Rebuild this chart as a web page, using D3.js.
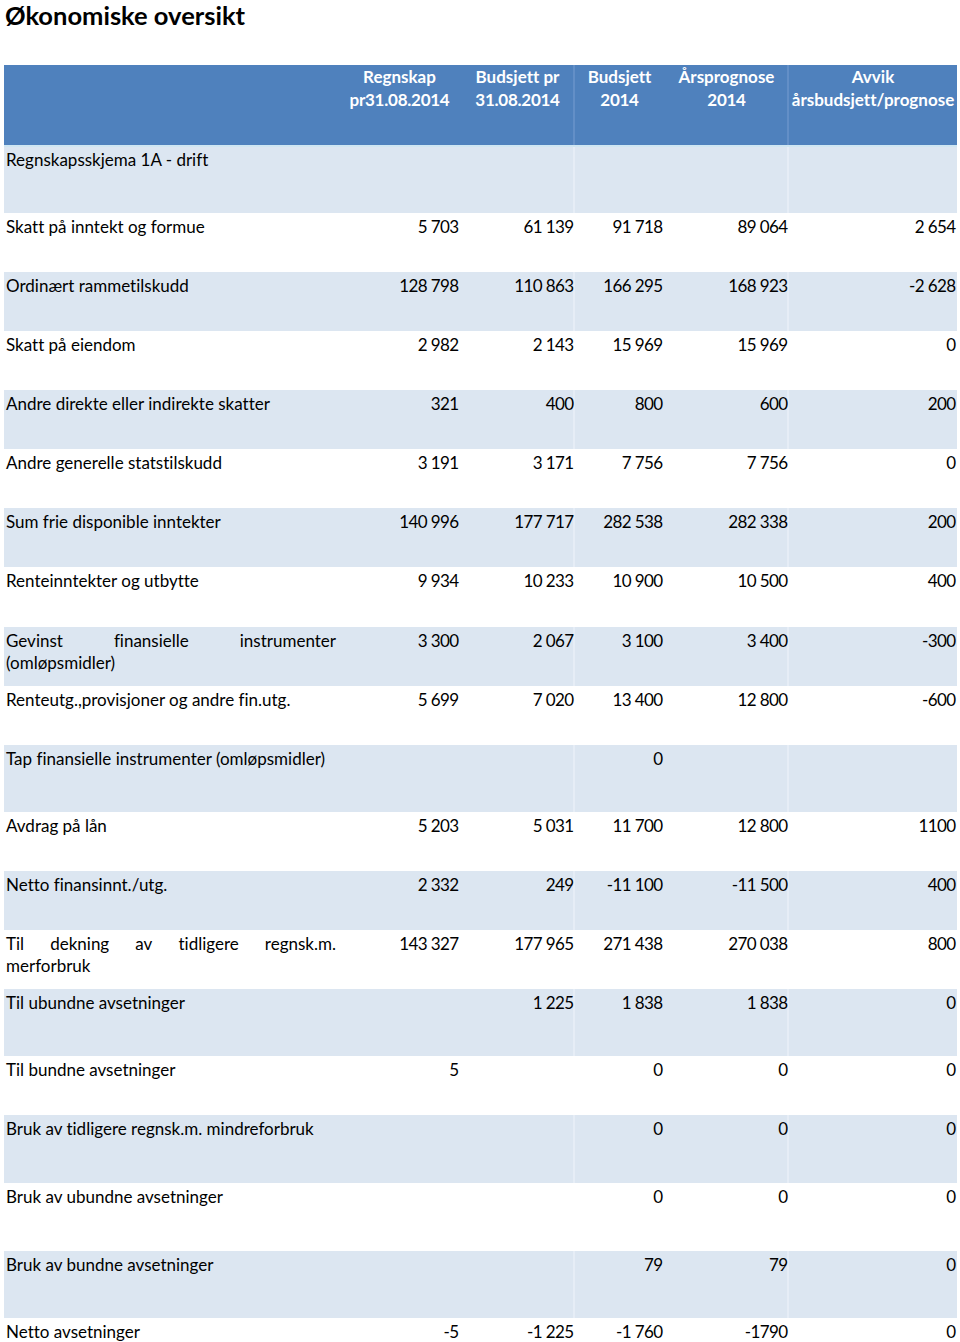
<!DOCTYPE html>
<html><head><meta charset="utf-8">
<script src="https://cdn.jsdelivr.net/npm/d3@7"></script>
<style>
html,body{margin:0;padding:0;background:#fff;}
svg{display:block;}
text{font-family:Lato,"Open Sans",sans-serif;font-variant-ligatures:none;font-feature-settings:"liga" 0,"clig" 0;}
</style></head>
<body>
<svg id="c" width="960" height="1342"></svg>
<script>
// ---------- data ----------
const title = "Økonomiske oversikt";
const headers = [
  ["Regnskap", "pr31.08.2014"],
  ["Budsjett pr", "31.08.2014"],
  ["Budsjett", "2014"],
  ["Årsprognose", "2014"],
  ["Avvik", "årsbudsjett/prognose"]
];
const labels = [
  "Regnskapsskjema 1A - drift",
  "Skatt på inntekt og formue",
  "Ordinært rammetilskudd",
  "Skatt på eiendom",
  "Andre direkte eller indirekte skatter",
  "Andre generelle statstilskudd",
  "Sum frie disponible inntekter",
  "Renteinntekter og utbytte",
  "Gevinst finansielle instrumenter (omløpsmidler)",
  "Renteutg.,provisjoner og andre fin.utg.",
  "Tap finansielle instrumenter (omløpsmidler)",
  "Avdrag på lån",
  "Netto finansinnt./utg.",
  "Til dekning av tidligere regnsk.m. merforbruk",
  "Til ubundne avsetninger",
  "Til bundne avsetninger",
  "Bruk av tidligere regnsk.m. mindreforbruk",
  "Bruk av ubundne avsetninger",
  "Bruk av bundne avsetninger",
  "Netto avsetninger"
];
const regnskap = ["", "5 703", "128 798", "2 982", "321", "3 191", "140 996", "9 934", "3 300", "5 699", "", "5 203", "2 332", "143 327", "", "5", "", "", "", "-5"];
const budsjettPr = ["", "61 139", "110 863", "2 143", "400", "3 171", "177 717", "10 233", "2 067", "7 020", "", "5 031", "249", "177 965", "1 225", "", "", "", "", "-1 225"];
const budsjett2014 = ["", "91 718", "166 295", "15 969", "800", "7 756", "282 538", "10 900", "3 100", "13 400", "0", "11 700", "-11 100", "271 438", "1 838", "0", "0", "0", "79", "-1 760"];
const prognose = ["", "89 064", "168 923", "15 969", "600", "7 756", "282 338", "10 500", "3 400", "12 800", "", "12 800", "-11 500", "270 038", "1 838", "0", "0", "0", "79", "-1790"];
const avvik = ["", "2 654", "-2 628", "0", "200", "0", "200", "400", "-300", "-600", "", "1100", "400", "800", "0", "0", "0", "0", "0", "0"];

// ---------- layout ----------
const series = [regnskap, budsjettPr, budsjett2014, prognose, avvik];
const colEdges = [4, 339, 460, 575, 664, 789, 957];
const headerTop = 65, headerBottom = 146;
const rowHeights = [67,59,59,59,59,59,59,60,59,59,67,59,59,59,67,59,68,68,67,30];
const wrapRows = new Set([8, 13]);
const rowTops = [headerBottom];
rowHeights.forEach((h,i)=>rowTops.push(rowTops[i]+h));

const svg = d3.select("#c");
const FS = 17;

// title
svg.append("text").attr("x", 5).attr("y", 25)
  .attr("font-size", 25.5).attr("font-weight", 700).attr("fill", "#000")
  .text(title);

// header background
svg.append("rect").attr("x", colEdges[0]).attr("y", headerTop)
  .attr("width", colEdges[6]-colEdges[0]).attr("height", headerBottom-headerTop)
  .attr("fill", "#4f81bd");

// rows background
const rows = svg.append("g");
rows.selectAll("rect").data(labels).join("rect")
  .attr("x", colEdges[0]).attr("y", (d,i)=>rowTops[i])
  .attr("width", colEdges[6]-colEdges[0]).attr("height", (d,i)=>rowHeights[i])
  .attr("fill", (d,i)=> i%2===0 ? "#dce6f1" : "#ffffff");

// separators
[575, 789].forEach(x=>{
  svg.append("line").attr("x1", x-1).attr("x2", x-1).attr("y1", headerTop).attr("y2", headerBottom)
    .attr("stroke", "#6a95cb").attr("stroke-width", 1.5);
  labels.forEach((d,i)=>{ if(i%2===0){
    svg.append("line").attr("x1", x-1).attr("x2", x-1).attr("y1", rowTops[i]).attr("y2", rowTops[i]+rowHeights[i])
      .attr("stroke", "#e6edf6").attr("stroke-width", 2);
  }});
});
svg.append("line").attr("x1", colEdges[0]).attr("x2", colEdges[6]).attr("y1", headerBottom).attr("y2", headerBottom)
  .attr("stroke", "#cfe6f2").attr("stroke-width", 2);

// header text
headers.forEach((lines, c)=>{
  const cx = (colEdges[c+1]+colEdges[c+2])/2;
  lines.forEach((t, k)=>{
    svg.append("text").attr("x", cx).attr("y", 83 + k*23)
      .attr("text-anchor", "middle").attr("font-size", FS).attr("font-weight", 700)
      .attr("letter-spacing", /\d/.test(t) ? -0.25 : 0)
      .attr("fill", "#fff").text(t);
  });
});

// labels
const labelLeft = 6, labelRight = 336;
labels.forEach((lab, i)=>{
  const base = rowTops[i] + 19.5;
  if (wrapRows.has(i)) {
    const words = lab.split(" ");
    const last = words.pop();
    const g = svg.append("g");
    const nodes = words.map(w => g.append("text").attr("font-size", FS).attr("fill", "#000").attr("y", base).text(w));
    const widths = nodes.map(n => n.node().getComputedTextLength());
    const total = d3.sum(widths);
    const gap = (labelRight - labelLeft - total) / (words.length - 1);
    let x = labelLeft;
    nodes.forEach((n, k)=>{ n.attr("x", x); x += widths[k] + gap; });
    svg.append("text").attr("x", labelLeft).attr("y", base + 22)
      .attr("font-size", FS).attr("fill", "#000").text(last);
  } else {
    svg.append("text").attr("x", labelLeft).attr("y", base)
      .attr("font-size", FS).attr("fill", "#000").text(lab);
  }
});

// values
series.forEach((vals, c)=>{
  const right = colEdges[c+2] - 1.5;
  svg.append("g").selectAll("text").data(vals).join("text")
    .attr("x", right).attr("y", (d,i)=>rowTops[i] + 19.5)
    .attr("text-anchor", "end").attr("font-size", FS).attr("fill", "#000")
    .attr("letter-spacing", -0.6)
    .text(d=>d);
});
</script>
</body></html>
